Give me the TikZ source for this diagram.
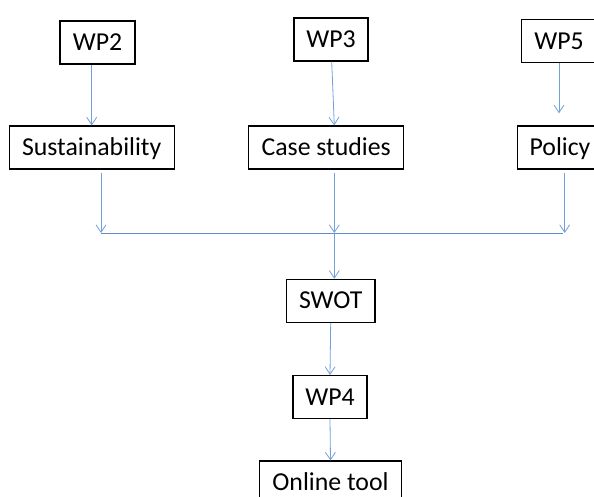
\documentclass[tikz,border=0pt]{standalone}
\usepackage{fontspec}
\setmainfont{Carlito}
\usetikzlibrary{arrows.meta,calc}
\definecolor{arrblue}{RGB}{115,160,218}
\definecolor{lineblue}{RGB}{95,142,202}
\tikzset{
  box/.style={draw=black, line width=1.1pt, inner sep=0pt, minimum height=43pt,
    text height=16.3pt, text depth=0pt, font=\fontsize{25.8pt}{28pt}\selectfont, anchor=center},
  arr/.style={draw=arrblue, line width=0.8pt, -{Straight Barb[length=7.5pt,width=10pt,line width=0.8pt]}},
  joinline/.style={draw=lineblue, line width=1pt}
}
\begin{document}
\begin{tikzpicture}[x=1pt,y=-1pt]
\useasboundingbox (0,0) rectangle (594,497);
\clip (0,0) rectangle (594,497);
% boxes
\node[box, minimum width=75pt] (wp2) at (97.5,42.5) {WP2};
\node[box, minimum width=74pt] (wp3) at (331,39.5) {WP3};
\node[box, minimum width=75pt] (wp5) at (559,41) {WP5};
\node[box, minimum width=165pt] (sus) at (91.7,147.5) {Sustainability};
\node[box, minimum width=155pt] (cs) at (326.2,147.5) {Case studies};
\node[box, minimum width=85pt] (pol) at (560,147.5) {Policy};
\node[box, minimum width=88.5pt] (swot) at (330.7,300.8) {SWOT};
\node[box, minimum width=74pt] (wp4) at (330,397) {WP4};
\node[box, minimum width=142.4pt] (onl) at (330.5,482.5) {Online tool};
% coordinates
\coordinate (p5) at (559,113.3);
\coordinate (jl) at (101,233);
\coordinate (jc) at (334.3,233);
\coordinate (jr) at (564.7,233);
% top arrows
\draw[arr] (wp2.south -| sus.north) -- (sus.north);
\draw[arr] ([xshift=0.7pt]wp3.south) -- ([xshift=8.1pt]cs.north);
\draw[arr] (wp5.south) -- (p5);
% to joining line
\draw[arr] ([yshift=-3pt]sus.south -| jl) -- (jl);
\draw[arr] ([yshift=-3pt]cs.south -| jc) -- (jc);
\draw[arr] ([yshift=-3pt]pol.south -| jr) -- (jr);
\draw[joinline] (jl) -- (563,233);
\draw[arr] (jc) -- (swot.north -| jc);
\draw[arr] (swot.south) -- (wp4.north);
\draw[arr] (wp4.south) -- (onl.north);
\end{tikzpicture}
\end{document}
